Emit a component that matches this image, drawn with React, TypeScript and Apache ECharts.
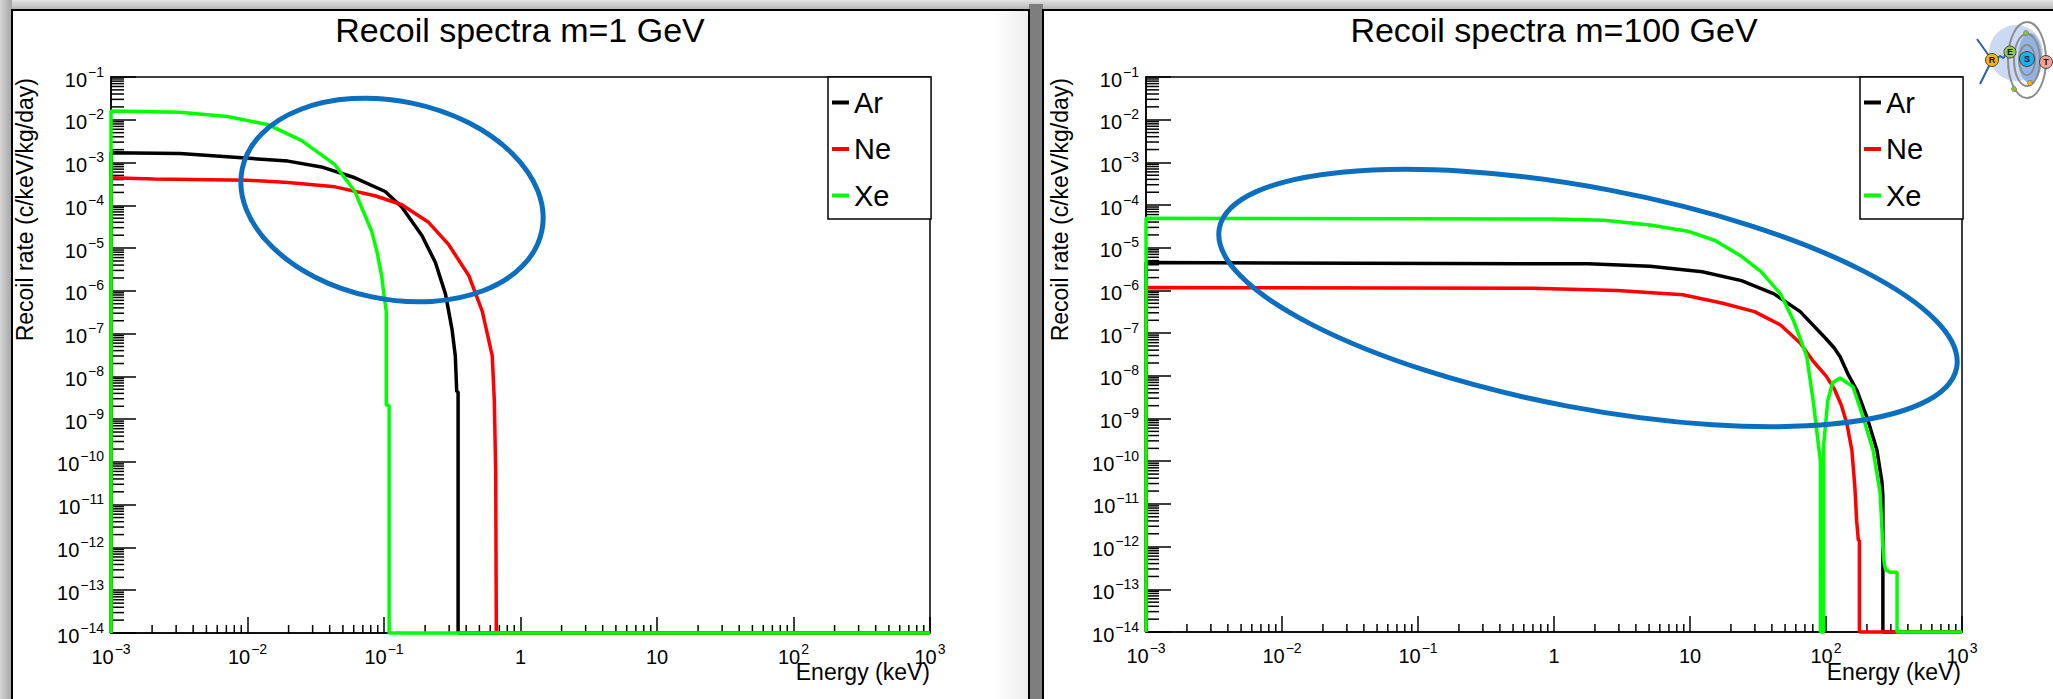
import React, { useEffect, useRef } from 'react';
import * as echarts from 'echarts';

const FONT = '"Liberation Sans", Arial, Helvetica, sans-serif';
const FLOOR = 1e-14;
const R_MAX = 1e-1;
const E_MIN = 1e-3;
const E_MAX = 1e3;

// ---- data: [energy (keV), rate (c/keV/kg/day)] ----
// m = 1 GeV
const arM1: [number, number][] = [
  [1e-3, FLOOR], [1e-3, 1.7e-3], [3.2e-3, 1.62e-3], [7.1e-3, 1.37e-3], [0.0198, 1.08e-3], [0.0348, 7.9e-4],
  [0.0612, 4.4e-4], [0.102, 2.1e-4], [0.135, 9.1e-5], [0.19, 1.95e-5], [0.238, 4.6e-6], [0.282, 8.5e-7],
  [0.315, 1.26e-7], [0.333, 3.0e-8], [0.341, 4.4e-9], [0.349, 4.4e-9], [0.349, FLOOR], [1000, FLOOR],
];
const neM1: [number, number][] = [
  [1e-3, FLOOR], [1e-3, 4.4e-4], [2.06e-3, 4.1e-4], [0.01, 3.86e-4], [0.0198, 3.42e-4], [0.0437, 2.7e-4],
  [0.0859, 1.67e-4], [0.135, 1.03e-4], [0.212, 4.0e-5], [0.298, 1.2e-5], [0.419, 2.24e-6], [0.525, 3.3e-7],
  [0.621, 3.0e-8], [0.643, 2.7e-9], [0.658, 5.9e-11], [0.665, 5.9e-11], [0.665, FLOOR], [1000, FLOOR],
];
const xeM1: [number, number][] = [
  [1e-3, FLOOR], [1e-3, 1.6e-2], [3.2e-3, 1.5e-2], [7.1e-3, 1.19e-2], [0.0141, 7.7e-3], [0.0248, 3.3e-3],
  [0.0437, 8.9e-4], [0.0612, 2.1e-4], [0.0813, 2.45e-5], [0.0891, 7.9e-6], [0.0962, 2.2e-6], [0.101, 6.3e-7],
  [0.104, 3.2e-7], [0.104, 2.1e-9], [0.109, 2.1e-9], [0.109, FLOOR], [1000, FLOOR],
];
// m = 100 GeV
const arM100: [number, number][] = [
  [1e-3, FLOOR], [1e-3, 4.5e-6], [1.78, 4.2e-6], [5.08, 3.7e-6], [12.3, 2.75e-6], [23.9, 1.7e-6],
  [41.5, 8.3e-7], [64.6, 3.2e-7], [100, 7.4e-8], [115, 4.5e-8], [127, 2.8e-8], [145, 1.1e-8],
  [169, 4.5e-9], [204, 8.9e-10], [237, 1.8e-10], [258, 3.2e-11], [262, 1.5e-11], [262, FLOOR], [1000, FLOOR],
];
const neM100: [number, number][] = [
  [1e-3, FLOOR], [1e-3, 1.18e-6], [0.695, 1.12e-6], [2.92, 1.0e-6], [8.83, 7.9e-7], [17.1, 5.1e-7],
  [29.8, 3.2e-7], [46.3, 1.55e-7], [64.6, 5.9e-8], [80.5, 2.2e-8], [100, 1e-8], [115, 5e-9],
  [130, 2e-9], [142, 7.9e-10], [155, 1.8e-10], [163, 2.5e-11], [168, 4e-12], [173, 1.4e-12],
  [176, 1.4e-12], [176, FLOOR], [1000, FLOOR],
];
const xeM100: [number, number][] = [
  [1e-3, FLOOR], [1e-3, 4.9e-5], [0.97, 4.7e-5], [2.34, 4.4e-5], [5.08, 3.4e-5], [9.86, 2.4e-5],
  [15.3, 1.48e-5], [23.9, 6.3e-6], [33.3, 2.75e-6], [46.3, 8.3e-7], [57.8, 1.95e-7], [72.1, 2.9e-8],
  [80.5, 2.6e-9], [88.1, 2.3e-10], [91, 1e-10], [91, FLOOR], [96, FLOOR], [96, 2.3e-10], [103, 2.6e-9],
  [112, 7e-9], [127, 8.9e-9], [158, 5.5e-9], [187, 1.1e-9], [222, 1.8e-10], [250, 1.8e-11], [262, 1e-12],
  [268, 4e-13], [275, 2.8e-13], [281, 2.8e-13], [295, 2.5e-13], [310, 2.5e-13], [333, 2.5e-13],
  [333, FLOOR], [1000, FLOOR],
];

const seriesNames = ['Ar', 'Ne', 'Xe'];
const seriesColors = ['#000000', '#ff0000', '#00ff00'];
const titles = ['Recoil spectra m=1 GeV', 'Recoil spectra m=100 GeV'];
const yTitle = 'Recoil rate (c/keV/kg/day)';
const xTitle = 'Energy (keV)';

// major tick decades and minor tick mantissas
const yMajorExps = [-14, -13, -12, -11, -10, -9, -8, -7, -6, -5, -4, -3, -2, -1];
const xMajorExps = [-3, -2, -1, 0, 1, 2, 3];
const minorMantissas = [2, 3, 4, 5, 6, 7, 8, 9];

const yMajorValues = yMajorExps.map((e) => Math.pow(10, e));
const xMajorValues = xMajorExps.map((e) => Math.pow(10, e));
const yMinorValues = yMajorExps.slice(0, -1).flatMap((e) => minorMantissas.map((m) => m * Math.pow(10, e)));
const xMinorValues = xMajorExps.slice(0, -1).flatMap((e) => minorMantissas.map((m) => m * Math.pow(10, e)));

const powLabel = (v: number) => {
  const e = Math.round(Math.log10(v));
  if (e === 0) return '{b|1}';
  if (e === 1) return '{b|10}';
  return `{b|10}{s|${e < 0 ? '\u2212' : ''}${Math.abs(e)}}`;
};

const richLabels = {
  b: { fontSize: 20, fontFamily: FONT, color: '#000', lineHeight: 25, verticalAlign: 'bottom' },
  s: { fontSize: 14, fontFamily: FONT, color: '#000', lineHeight: 25, verticalAlign: 'top', padding: [0, 0, 0, 1] },
};

const grids = [
  { left: 111, top: 77, width: 819, height: 556 },
  { left: 1146, top: 77, width: 816, height: 555 },
];
const legendLefts = [828, 1860];
const panelData = [
  [arM1, neM1, xeM1],
  [arM100, neM100, xeM100],
];

const buildOption = () => {
  const grid = grids.map((g) => ({
    ...g,
    show: true,
    borderColor: '#000',
    borderWidth: 1.5,
    backgroundColor: 'transparent',
    containLabel: false,
    outerBoundsMode: 'none',
  }));
  const xAxis = grids.map((_, i) => ({
    type: 'log',
    logBase: 10,
    gridIndex: i,
    min: E_MIN,
    max: E_MAX,
    splitNumber: 6,
    axisLine: { show: true, onZero: false, lineStyle: { color: '#000', width: 1.5 } },
    axisTick: { show: true, inside: true, length: 16, customValues: xMajorValues, lineStyle: { color: '#000', width: 1.5 } },
    minorTick: { show: false },
    splitLine: { show: false },
    axisLabel: { show: true, interval: 0, margin: 9, customValues: xMajorValues, formatter: powLabel, rich: richLabels, color: '#000' },
  }));
  const yAxis = grids.map((_, i) => ({
    type: 'log',
    logBase: 10,
    gridIndex: i,
    min: FLOOR,
    max: R_MAX,
    splitNumber: 13,
    axisLine: { show: true, onZero: false, lineStyle: { color: '#000', width: 1.5 } },
    axisTick: { show: true, inside: true, length: 25, customValues: yMajorValues, lineStyle: { color: '#000', width: 1.5 } },
    minorTick: { show: false },
    splitLine: { show: false },
    axisLabel: { show: true, interval: 0, margin: 7, customValues: yMajorValues, formatter: powLabel, rich: richLabels, color: '#000' },
  }));

  const series: any[] = [];
  grids.forEach((_, gi) => {
    series.push({
      type: 'custom',
      name: 'yMinor' + gi,
      xAxisIndex: gi,
      yAxisIndex: gi,
      silent: true,
      clip: false,
      z: 1,
      data: yMinorValues.map((v) => [E_MIN, v]),
      renderItem: (_p: any, api: any) => {
        const p = api.coord([api.value(0), api.value(1)]);
        return {
          type: 'line',
          shape: { x1: p[0], y1: p[1], x2: p[0] + 13, y2: p[1] },
          style: { stroke: '#000', lineWidth: 1.5 },
        };
      },
    });
    series.push({
      type: 'custom',
      name: 'xMinor' + gi,
      xAxisIndex: gi,
      yAxisIndex: gi,
      silent: true,
      clip: false,
      z: 1,
      data: xMinorValues.map((v) => [v, FLOOR]),
      renderItem: (_p: any, api: any) => {
        const p = api.coord([api.value(0), api.value(1)]);
        return {
          type: 'line',
          shape: { x1: p[0], y1: p[1], x2: p[0], y2: p[1] - 8 },
          style: { stroke: '#000', lineWidth: 1.5 },
        };
      },
    });
    panelData[gi].forEach((d, si) => {
      series.push({
        type: 'line',
        name: seriesNames[si],
        xAxisIndex: gi,
        yAxisIndex: gi,
        data: d,
        symbol: 'none',
        showSymbol: false,
        clip: false,
        color: seriesColors[si],
        itemStyle: { color: seriesColors[si] },
        lineStyle: { color: seriesColors[si], width: 3.5 },
        z: 2 + si,
      });
    });
  });

  const legend = legendLefts.map((left) => ({
    data: seriesNames,
    orient: 'vertical',
    left,
    top: 77,
    padding: [11, 40, 9, 4],
    itemGap: 17.5,
    itemWidth: 17,
    itemHeight: 4,
    icon: 'rect',
    selectedMode: false,
    backgroundColor: '#fff',
    borderColor: '#000',
    borderWidth: 1.5,
    borderRadius: 0,
    textStyle: { fontSize: 29, fontFamily: FONT, color: '#000' },
  }));

  const bg = (el: any) => ({ ...el, z: -10, silent: true });
  const top = (el: any) => ({ ...el, z: 100, silent: true });

  const graphic: any[] = [
    // page backdrop
    bg({ type: 'rect', shape: { x: 0, y: 0, width: 2053, height: 12 },
      style: { fill: new echarts.graphic.LinearGradient(0, 0, 0, 1, [{ offset: 0, color: '#e4e4e4' }, { offset: 1, color: '#a9a9a9' }]) } }),
    bg({ type: 'rect', shape: { x: 0, y: 0, width: 12, height: 699 },
      style: { fill: new echarts.graphic.LinearGradient(0, 0, 1, 0, [{ offset: 0, color: '#d6d6d6' }, { offset: 1, color: '#a4a4a4' }]) } }),
    bg({ type: 'rect', shape: { x: 1029, y: 4, width: 14, height: 695 }, style: { fill: '#7e7e7e' } }),
    bg({ type: 'rect', shape: { x: 12, y: 10, width: 1017, height: 700 }, style: { fill: '#ffffff', stroke: '#000', lineWidth: 2 } }),
    bg({ type: 'rect', shape: { x: 994, y: 11, width: 34, height: 688 },
      style: { fill: new echarts.graphic.LinearGradient(0, 0, 1, 0, [{ offset: 0, color: 'rgba(0,0,0,0)' }, { offset: 1, color: 'rgba(0,0,0,0.07)' }]) } }),
    bg({ type: 'rect', shape: { x: 1043, y: 10, width: 1030, height: 700 }, style: { fill: '#ffffff', stroke: '#000', lineWidth: 2 } }),
  ];

  const titleX = [520, 1554];
  const yTitleX = [25, 1060];
  const xTitleRight = [930, 1961];
  titles.forEach((t, i) => {
    graphic.push({
      type: 'text', z: 50, x: titleX[i], y: 30,
      style: { text: t, fontSize: 34, fontFamily: FONT, fill: '#000', align: 'center', verticalAlign: 'middle', textAlign: 'center', textVerticalAlign: 'middle' },
    });
    graphic.push({
      type: 'text', z: 50, x: yTitleX[i], y: 78, rotation: Math.PI / 2,
      style: { text: yTitle, fontSize: 23, fontFamily: FONT, fill: '#000', align: 'right', verticalAlign: 'middle', textAlign: 'right', textVerticalAlign: 'middle' },
    });
    graphic.push({
      type: 'text', z: 50, x: xTitleRight[i], y: 672,
      style: { text: xTitle, fontSize: 23, fontFamily: FONT, fill: '#000', align: 'right', verticalAlign: 'middle', textAlign: 'right', textVerticalAlign: 'middle' },
    });
  });

  // annotation ellipses
  graphic.push(top({ type: 'ellipse', x: 392, y: 200, rotation: -0.204, shape: { cx: 0, cy: 0, rx: 153, ry: 99 },
    style: { fill: 'none', stroke: '#0b6ebf', lineWidth: 5 } }));
  graphic.push(top({ type: 'ellipse', x: 1588, y: 298, rotation: -0.187, shape: { cx: 0, cy: 0, rx: 375, ry: 110 },
    style: { fill: 'none', stroke: '#0b6ebf', lineWidth: 5 } }));

  // REST logo
  const orbit = { fill: 'none', stroke: '#8c8c8c', lineWidth: 2 };
  const letter = (t: string, x: number, y: number) =>
    top({ type: 'text', x, y, style: { text: t, fontSize: 9, fontWeight: 'bold', fontFamily: FONT, fill: '#111', align: 'center', verticalAlign: 'middle', textAlign: 'center', textVerticalAlign: 'middle' } });
  graphic.push(
    top({ type: 'ellipse', shape: { cx: 2016, cy: 53, rx: 27, ry: 28 }, style: { fill: '#cbdaf2' } }),
    top({ type: 'ellipse', shape: { cx: 2030, cy: 58, rx: 12, ry: 25 }, style: { fill: '#93b3e3' } }),
    top({ type: 'ellipse', shape: { cx: 2027, cy: 60, rx: 19, ry: 38 }, style: orbit }),
    top({ type: 'ellipse', shape: { cx: 2027, cy: 60, rx: 13, ry: 26 }, style: orbit }),
    top({ type: 'ellipse', shape: { cx: 2027, cy: 60, rx: 8, ry: 15 }, style: orbit }),
    top({ type: 'polyline', shape: { points: [[1977, 39], [1992, 60], [1980, 84]] }, style: { stroke: '#2a5db0', lineWidth: 2, fill: 'none' } }),
    top({ type: 'bezierCurve', shape: { x1: 1998, y1: 59, x2: 2005, y2: 55, cpx1: 2000, cpy1: 51, cpx2: 2003, cpy2: 63 }, style: { stroke: '#2a5db0', lineWidth: 2, fill: 'none' } }),
    top({ type: 'circle', shape: { cx: 2026, cy: 33, r: 2.5 }, style: { fill: '#8cc63f', stroke: '#555', lineWidth: 0.5 } }),
    top({ type: 'circle', shape: { cx: 2030, cy: 83, r: 2.5 }, style: { fill: '#f5b800', stroke: '#555', lineWidth: 0.5 } }),
    top({ type: 'circle', shape: { cx: 2014, cy: 89, r: 2.5 }, style: { fill: '#8cc63f', stroke: '#555', lineWidth: 0.5 } }),
    top({ type: 'circle', shape: { cx: 1992, cy: 60, r: 6.5 }, style: { fill: '#f6b400', stroke: '#444', lineWidth: 1 } }),
    top({ type: 'circle', shape: { cx: 2010, cy: 52, r: 6 }, style: { fill: '#8ed04b', stroke: '#444', lineWidth: 1 } }),
    top({ type: 'circle', shape: { cx: 2027, cy: 59, r: 7.5 }, style: { fill: '#1eaee8', stroke: '#444', lineWidth: 1 } }),
    top({ type: 'circle', shape: { cx: 2046, cy: 62, r: 6.5 }, style: { fill: '#f4a090', stroke: '#444', lineWidth: 1 } }),
    letter('R', 1992, 60),
    letter('E', 2010, 52),
    letter('S', 2027, 59),
    letter('T', 2046, 62),
  );

  return {
    animation: false,
    backgroundColor: '#c4c4c4',
    textStyle: { fontFamily: FONT },
    grid,
    xAxis,
    yAxis,
    legend,
    series,
    graphic,
  };
};

export default function App() {
  const ref = useRef<HTMLDivElement>(null);
  useEffect(() => {
    if (!ref.current) return;
    const chart = echarts.init(ref.current, null, { renderer: 'svg' });
    chart.setOption(buildOption() as any);
    return () => chart.dispose();
  }, []);
  return (
    <div
      ref={ref}
      style={{ position: 'fixed', left: 0, top: 0, width: 2053, height: 699 }}
    />
  );
}
